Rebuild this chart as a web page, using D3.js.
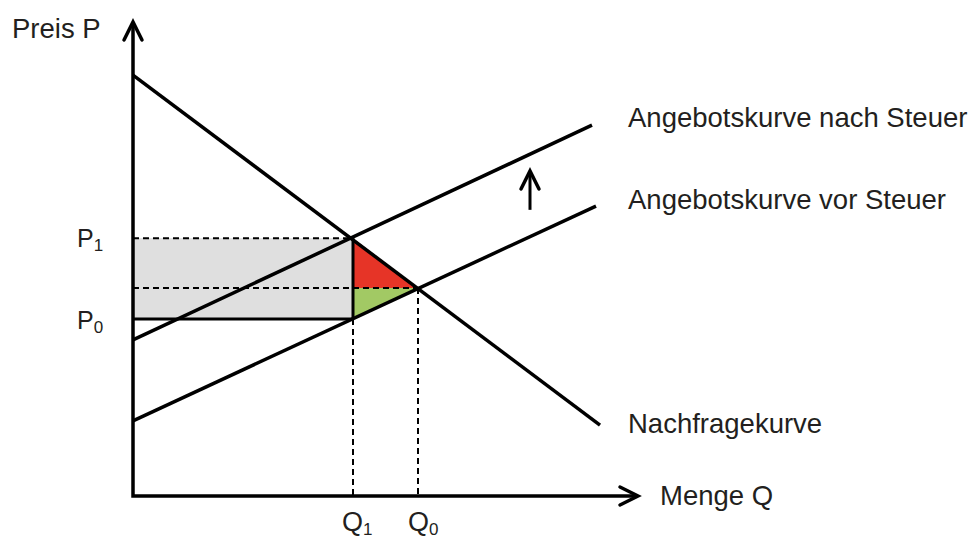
<!DOCTYPE html>
<html>
<head>
<meta charset="utf-8">
<script src="https://cdn.jsdelivr.net/npm/d3@7"></script>
<style>
  body { margin: 0; background: #fff; }
  svg { display: block; font-family: "Liberation Sans", Arial, sans-serif; }
  text { fill: #231f20; font-size: 27.5px; }
</style>
</head>
<body>
<svg id="chart" width="976" height="539"></svg>
<script>
// curves (menge q, preis p)
const demand = [{q: 0, p: 89.0}, {q: 93.4, p: 15.0}];
const supplyAfter = [{q: 0, p: 33.0}, {q: 91.8, p: 78.4}];
const supplyBefore = [{q: 0, p: 15.9}, {q: 92.6, p: 61.3}];

// key quantities and prices
const Q1 = 44, Q0 = 57;
const P1 = 54.5, Pe = 44.0, P0 = 37.4;

// small shift arrow
const shiftArrow = [{q: 79.4, p: 60.5}, {q: 79.4, p: 68.5}];

const curveLabels = [
  {text: 'Angebotskurve nach Steuer', q: 99, p: 78.0},
  {text: 'Angebotskurve vor Steuer', q: 99, p: 60.6},
  {text: 'Nachfragekurve', q: 99, p: 13.3}
];

const svg = d3.select('#chart');
const x = d3.scaleLinear().domain([0, 100]).range([133, 633]);
const y = d3.scaleLinear().domain([0, 100]).range([496, 23]);

const line = d3.line().x(d => x(d.q)).y(d => y(d.p));

// grey tax revenue rectangle
svg.append('rect')
  .attr('x', x(0)).attr('y', y(P1))
  .attr('width', x(Q1) - x(0)).attr('height', y(P0) - y(P1))
  .attr('fill', '#dfdfdf');

// deadweight loss triangles
svg.append('path')
  .attr('d', line([{q: Q1, p: P1}, {q: Q0, p: Pe}, {q: Q1, p: Pe}]) + 'Z')
  .attr('fill', '#e63427');
svg.append('path')
  .attr('d', line([{q: Q1, p: Pe}, {q: Q0, p: Pe}, {q: Q1, p: P0}]) + 'Z')
  .attr('fill', '#a2c964');

// dashed guides
const dashed = [
  [{q: 0, p: P1}, {q: Q1, p: P1}],
  [{q: 0, p: Pe}, {q: Q0, p: Pe}],
  [{q: Q1, p: P0}, {q: Q1, p: 0}],
  [{q: Q0, p: Pe}, {q: Q0, p: 0}]
];
svg.selectAll('.dash').data(dashed).join('path').classed('dash', true)
  .attr('d', line)
  .attr('fill', 'none').attr('stroke', '#000')
  .attr('stroke-width', 2).attr('stroke-dasharray', '6,4');

// solid edges of the rectangle
const solid = [
  [{q: 0, p: P0}, {q: Q1, p: P0}],
  [{q: Q1, p: P1}, {q: Q1, p: P0}]
];
svg.selectAll('.solid').data(solid).join('path').classed('solid', true)
  .attr('d', line)
  .attr('fill', 'none').attr('stroke', '#000').attr('stroke-width', 3);

// curves
svg.selectAll('.curve').data([demand, supplyAfter, supplyBefore]).join('path').classed('curve', true)
  .attr('d', line)
  .attr('fill', 'none').attr('stroke', '#000').attr('stroke-width', 3.5);

// axes
svg.append('path')
  .attr('d', line([{q: 0, p: 100}, {q: 0, p: 0}, {q: 100.8, p: 0}]))
  .attr('fill', 'none').attr('stroke', '#000').attr('stroke-width', 3.5);

function arrowHead(tx, ty, dir) {
  // chevron pointing up or right
  const pts = dir === 'up'
    ? [[tx - 9, ty + 18], [tx, ty], [tx + 9, ty + 18]]
    : [[tx - 18, ty - 9], [tx, ty], [tx - 18, ty + 9]];
  svg.append('path')
    .attr('d', d3.line()(pts))
    .attr('fill', 'none').attr('stroke', '#000')
    .attr('stroke-width', 3.5).attr('stroke-linecap', 'round');
}
arrowHead(x(0), y(100) - 1, 'up');
arrowHead(x(100.8) + 1, y(0), 'right');

// shift arrow
svg.append('path').attr('d', line(shiftArrow))
  .attr('stroke', '#000').attr('stroke-width', 3);
arrowHead(x(shiftArrow[1].q), y(shiftArrow[1].p) - 1, 'up');

// labels
svg.append('text').attr('x', 12).attr('y', 38).text('Preis P');
svg.append('text').attr('x', 660).attr('y', y(0) + 9).text('Menge Q');

svg.selectAll('.clabel').data(curveLabels).join('text').classed('clabel', true)
  .attr('x', d => x(d.q)).attr('y', d => y(d.p))
  .text(d => d.text);

function subLabel(px, py, main, sub, size) {
  const t = svg.append('text').attr('x', px).attr('y', py).style('font-size', size + 'px');
  t.append('tspan').text(main);
  t.append('tspan').attr('dy', 4).style('font-size', '17px').text(sub);
}
subLabel(77, y(P1) + 9, 'P', '1', 25);
subLabel(77, y(P0) + 10, 'P', '0', 25);
subLabel(x(Q1) - 11, y(0) + 35, 'Q', '1', 27);
subLabel(x(Q0) - 10, y(0) + 35, 'Q', '0', 27);
</script>
</body>
</html>
